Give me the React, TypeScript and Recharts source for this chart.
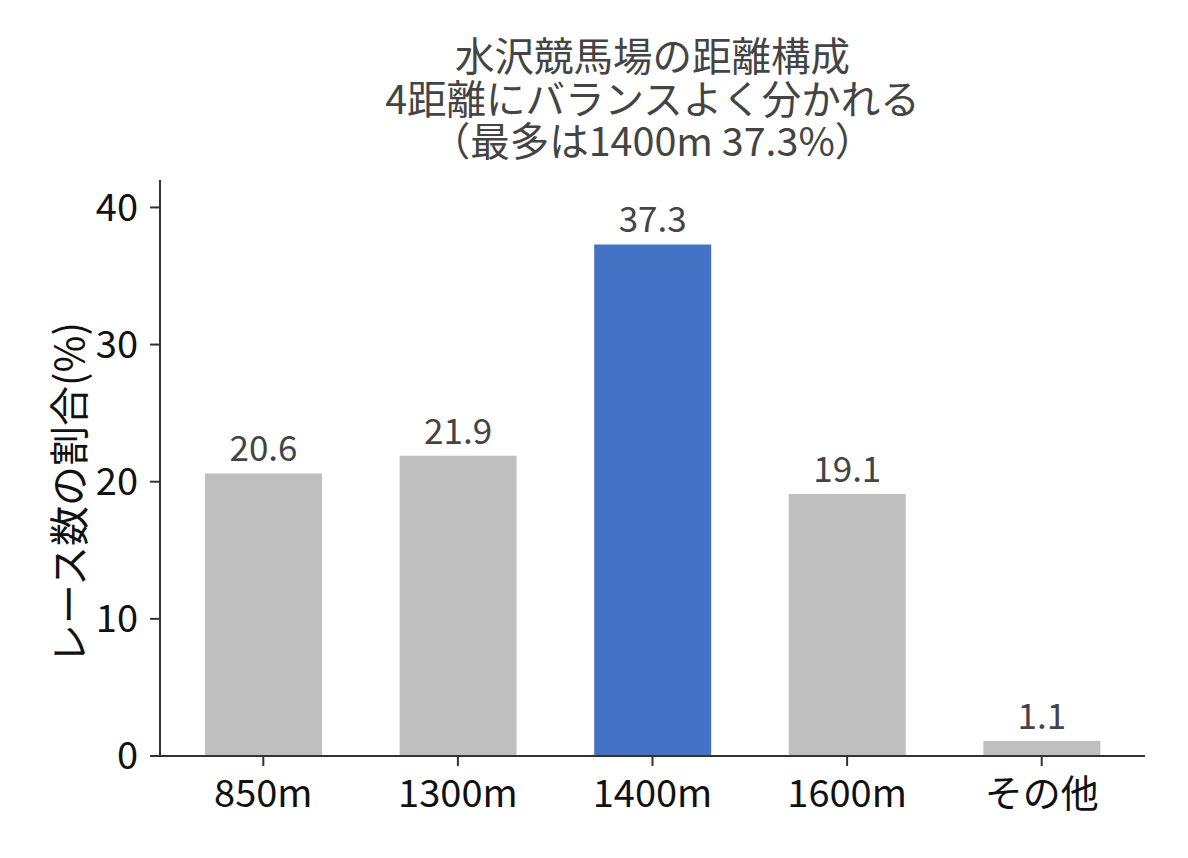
import { BarChart, Bar, Cell, XAxis, YAxis, LabelList } from 'recharts';

// 距離ごとのレース数の割合(%)
const distances = ['850m', '1300m', '1400m', '1600m', 'その他'];
const shares = [20.6, 21.9, 37.3, 19.1, 1.1];
const yTicks = [0, 10, 20, 30, 40];
const titleLines = ['水沢競馬場の距離構成', '4距離にバランスよく分かれる', '（最多は1400m 37.3%）'];

const GREY = '#bfbfbf';
const BLUE = '#4472c4';
const HIGHLIGHT = '1400m';

const data = distances.map((name, i) => ({ name, value: shares[i] }));

const FONT = '"Noto Sans CJK JP", "Noto Sans", sans-serif';

export default function App() {
    return (
        <div style={{ position: 'absolute', left: 0, top: 0, width: 1188, height: 858, background: '#fff', fontFamily: FONT }}>
            {/* タイトル（3行） */}
            <div
                style={{
                    position: 'absolute', left: 160, width: 985, top: 33,
                    textAlign: 'center', fontSize: 39.5, lineHeight: '42.5px', color: '#444',
                }}
            >
                {titleLines.map((t) => <div key={t}>{t}</div>)}
            </div>
            <BarChart
                width={1188}
                height={858}
                data={data}
                margin={{ top: 180, right: 43, bottom: 0, left: 60 }}
            >
                <XAxis
                    dataKey="name"
                    height={102}
                    padding={{ left: 6, right: 6 }}
                    tickSize={10}
                    tickMargin={14}
                    axisLine={{ stroke: '#333', strokeWidth: 2 }}
                    tickLine={{ stroke: '#333', strokeWidth: 2 }}
                    tick={{ fill: '#111', fontSize: 38, fontFamily: FONT }}
                    interval={0}
                />
                <YAxis
                    width={100}
                    domain={[0, 42]}
                    ticks={yTicks}
                    allowDataOverflow
                    tickSize={10}
                    tickMargin={12}
                    axisLine={{ stroke: '#333', strokeWidth: 2 }}
                    tickLine={{ stroke: '#333', strokeWidth: 2 }}
                    tick={{ fill: '#111', fontSize: 38, fontFamily: FONT }}
                    label={{
                        content: () => (
                            <text
                                x={84}
                                y={493}
                                transform="rotate(-90 84 493)"
                                textAnchor="middle"
                                fontSize={40}
                                fontFamily={FONT}
                                fill="#111"
                            >
                                レース数の割合(%)
                            </text>
                        ),
                    }}
                />
                <Bar dataKey="value" barSize={117} isAnimationActive={false}>
                    {data.map((d) => (
                        <Cell key={d.name} fill={d.name === HIGHLIGHT ? BLUE : GREY} />
                    ))}
                    <LabelList
                        dataKey="value"
                        position="top"
                        offset={12}
                        formatter={(v: number) => v.toFixed(1)}
                        style={{ fill: '#444', fontSize: 35, fontFamily: FONT }}
                    />
                </Bar>
            </BarChart>
        </div>
    );
}
